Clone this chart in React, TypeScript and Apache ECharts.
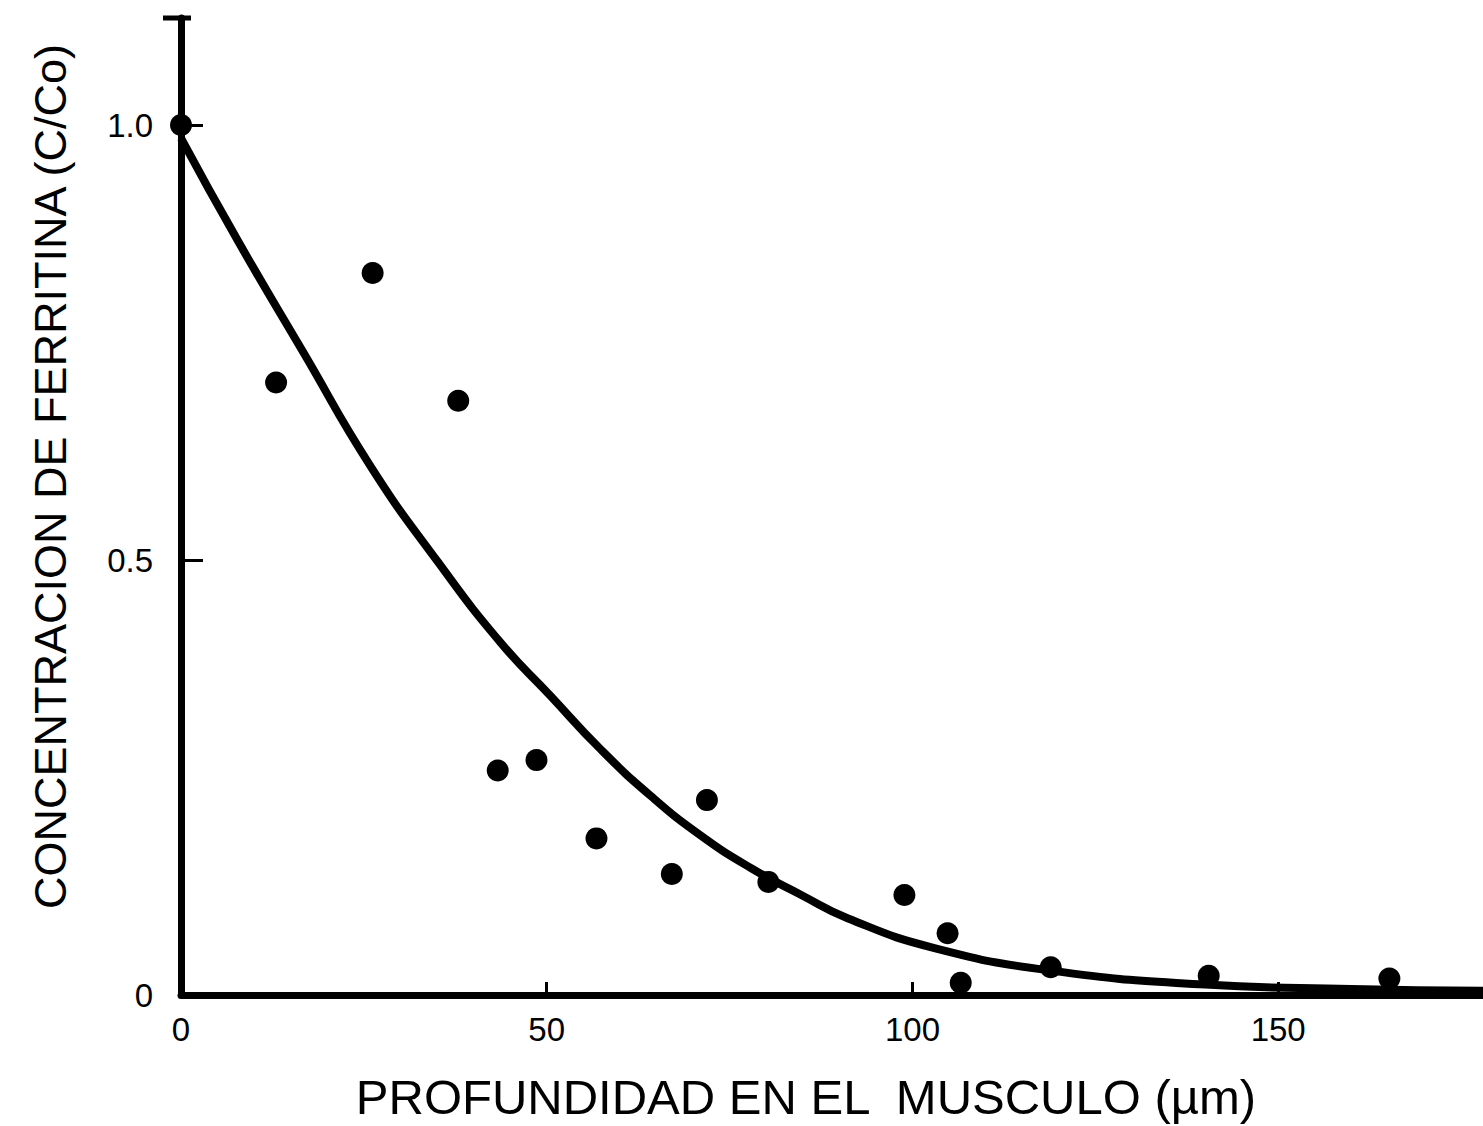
import React, { useEffect, useRef } from "react";
import * as echarts from "echarts";

const pointsX = [0, 13.0, 26.2, 37.9, 43.3, 48.6, 56.8, 67.1, 71.9, 80.3, 98.9, 104.8, 106.6, 118.9, 140.5, 165.2];
const pointsY = [1.0, 0.704, 0.83, 0.683, 0.258, 0.27, 0.18, 0.139, 0.224, 0.13, 0.115, 0.071, 0.014, 0.032, 0.022, 0.019];

const curveX = [0, 7.7, 16.7, 25.9, 35.1, 43.7, 50.5, 57.3, 64.2, 71.1, 77.9, 84.8, 91.2, 103, 119, 140, 160, 178];
const curveY = [0.985, 0.868, 0.739, 0.608, 0.498, 0.405, 0.344, 0.283, 0.229, 0.183, 0.146, 0.115, 0.088, 0.054, 0.028, 0.012, 0.007, 0.005];

const xTicks = [0, 50, 100, 150];
const yTicks = [0, 0.5, 1.0];
const yTickLabels = ["0", "0.5", "1.0"];

const xName = "PROFUNDIDAD EN EL  MUSCULO (µm)";
const yName = "CONCENTRACION DE FERRITINA (C/Co)";

const FONT = "Liberation Sans";
const GRID = { left: 181, right: 0, top: 18, bottom: 129 };

export default function App() {
  const ref = useRef<HTMLDivElement>(null);
  useEffect(() => {
    if (!ref.current) return;
    const chart = echarts.init(ref.current, undefined, { renderer: "svg" });
    const scatterData = pointsX.map((x, i) => [x, pointsY[i]]);
    const curveData = curveX.map((x, i) => [x, curveY[i]]);
    chart.setOption({
      animation: false,
      backgroundColor: "#ffffff",
      grid: { ...GRID, containLabel: false },
      xAxis: {
        type: "value",
        min: 0,
        max: 178,
        splitLine: { show: false },
        axisLine: { show: true, onZero: false, lineStyle: { color: "#000", width: 7 } },
        axisTick: {
          show: true,
          inside: true,
          length: 13,
          customValues: [50, 100, 150],
          lineStyle: { color: "#000", width: 3 },
        },
        axisLabel: {
          customValues: xTicks,
          margin: 18,
          color: "#000",
          fontFamily: FONT,
          fontSize: 33,
        },
        name: xName,
        nameLocation: "middle",
        nameGap: 77,
        nameTextStyle: { color: "#000", fontFamily: FONT, fontSize: 49, padding: [0, 52, 0, 0] },
      },
      yAxis: {
        type: "value",
        min: 0,
        max: 1.123,
        splitLine: { show: false },
        axisLine: { show: true, lineStyle: { color: "#000", width: 7 } },
        axisTick: {
          show: true,
          inside: true,
          length: 22,
          customValues: [0.5, 1.0],
          lineStyle: { color: "#000", width: 3 },
        },
        axisLabel: {
          customValues: yTicks,
          margin: 28,
          color: "#000",
          fontFamily: FONT,
          fontSize: 33,
          formatter: (v: number) => {
            const i = yTicks.findIndex((t) => Math.abs(t - v) < 1e-6);
            return i >= 0 ? yTickLabels[i] : "";
          },
        },
        name: yName,
        nameLocation: "middle",
        nameGap: 108,
        nameTextStyle: { color: "#000", fontFamily: FONT, fontSize: 45, padding: [0, 0, 0, 60] },
      },
      graphic: [
        {
          type: "line",
          shape: { x1: GRID.left - 18, y1: GRID.top, x2: GRID.left + 10, y2: GRID.top },
          style: { stroke: "#000", lineWidth: 5 },
        },
      ],
      series: [
        {
          type: "line",
          data: curveData,
          smooth: 0.5,
          showSymbol: false,
          lineStyle: { color: "#000", width: 8 },
          z: 2,
        },
        {
          type: "scatter",
          data: scatterData,
          symbol: "circle",
          symbolSize: 22,
          itemStyle: { color: "#000", opacity: 1 },
          z: 3,
        },
      ],
    });
    return () => chart.dispose();
  }, []);
  return (
    <div
      ref={ref}
      style={{ position: "fixed", left: 0, top: 0, width: 1483, height: 1126, background: "#fff" }}
    />
  );
}
